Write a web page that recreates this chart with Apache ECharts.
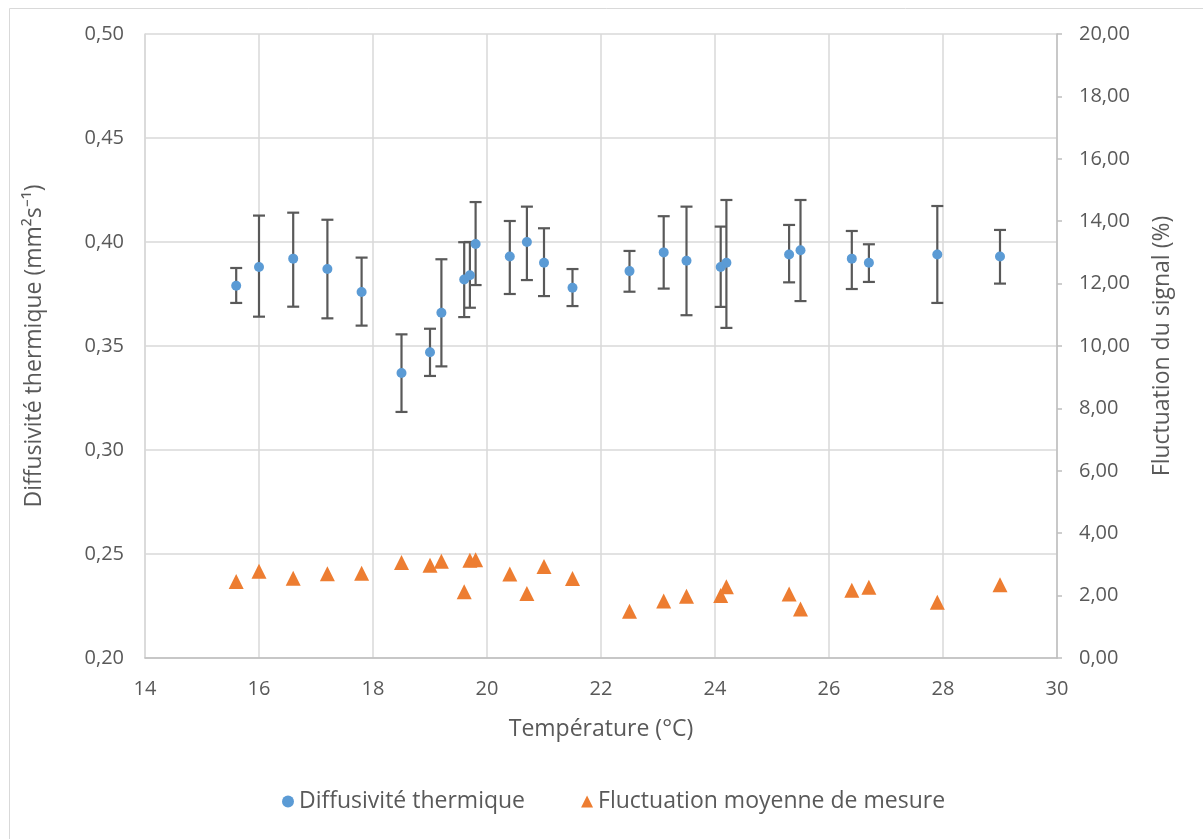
<!DOCTYPE html>
<html>
<head>
<meta charset="utf-8">
<script src="https://cdn.jsdelivr.net/npm/echarts@6/dist/echarts.min.js"></script>
<style>
html,body{margin:0;padding:0;background:#fff;}
#chart{width:1203px;height:839px;}
</style>
</head>
<body>
<div id="chart"></div>
<script>
// Data
var temperatures = [15.6, 16.0, 16.6, 17.2, 17.8, 18.5, 19.0, 19.2, 19.6, 19.7, 19.8, 20.4, 20.7, 21.0, 21.5, 22.5, 23.1, 23.5, 24.1, 24.2, 25.3, 25.5, 26.4, 26.7, 27.9, 29.0];
var diffusivity  = [0.379, 0.388, 0.392, 0.387, 0.376, 0.337, 0.347, 0.366, 0.382, 0.384, 0.399, 0.393, 0.400, 0.390, 0.378, 0.386, 0.395, 0.391, 0.388, 0.390, 0.394, 0.396, 0.392, 0.390, 0.394, 0.393];
var errHigh      = [0.3875, 0.4127, 0.4141, 0.4107, 0.3925, 0.3556, 0.3583, 0.3917, 0.3999, 0.4000, 0.4192, 0.4101, 0.4170, 0.4066, 0.3870, 0.3957, 0.4124, 0.4170, 0.4074, 0.4202, 0.4082, 0.4202, 0.4053, 0.3989, 0.4173, 0.4058];
var errLow       = [0.3707, 0.3641, 0.3689, 0.3633, 0.3598, 0.3183, 0.3356, 0.3402, 0.3639, 0.3684, 0.3793, 0.3750, 0.3817, 0.3740, 0.3692, 0.3761, 0.3776, 0.3648, 0.3688, 0.3587, 0.3806, 0.3716, 0.3774, 0.3808, 0.3707, 0.3800];
var fluctuation  = [2.45, 2.78, 2.56, 2.70, 2.72, 3.06, 2.97, 3.10, 2.12, 3.13, 3.15, 2.69, 2.07, 2.93, 2.55, 1.50, 1.83, 1.98, 2.00, 2.28, 2.05, 1.57, 2.17, 2.27, 1.79, 2.35];
var seriesNames = ['Diffusivité thermique', 'Fluctuation moyenne de mesure'];
var xTitle = 'Température (°C)';
var yLeftTitle = 'Diffusivité thermique (mm²s⁻¹)';
var yRightTitle = 'Fluctuation du signal (%)';

var FONT = '"Open Sans", sans-serif';
var TXT = '#595959';

var diffData = temperatures.map(function (t, i) { return [t, diffusivity[i]]; });
var errData = temperatures.map(function (t, i) { return [t, errLow[i], errHigh[i]]; });
var flucData = temperatures.map(function (t, i) { return [t, fluctuation[i]]; });

var chart = echarts.init(document.getElementById('chart'), null, {renderer: 'canvas'});
chart.setOption({
  backgroundColor: '#fff',
  animation: false,
  graphic: [{
    type: 'rect', left: 7, top: 6, shape: {width: 1210, height: 850},
    style: {fill: 'none', stroke: '#d9d9d9', lineWidth: 1}, silent: true
  }],
  grid: {left: 145, right: 146, top: 34, bottom: 181, containLabel: false},
  legend: {
    top: 785, left: 277, itemGap: 56, itemWidth: 12, itemHeight: 12,
    textStyle: {fontFamily: FONT, fontSize: 23, color: TXT},
    data: [
      {name: seriesNames[0], icon: 'circle', itemStyle: {color: '#5B9BD5'}},
      {name: seriesNames[1], icon: 'triangle', itemStyle: {color: '#ED7D31'}}
    ]
  },
  xAxis: {
    type: 'value', min: 14, max: 30, interval: 2,
    name: xTitle, nameLocation: 'middle', nameGap: 60,
    nameTextStyle: {fontFamily: FONT, fontSize: 23, color: TXT},
    axisLine: {show: true, lineStyle: {color: '#bfbfbf', width: 1.5}},
    axisTick: {show: false},
    axisLabel: {fontFamily: FONT, fontSize: 20, color: TXT, margin: 21},
    splitLine: {show: true, lineStyle: {color: '#d9d9d9', width: 1.5}}
  },
  yAxis: [{
    type: 'value', min: 0.20, max: 0.50, interval: 0.05, position: 'left',
    name: yLeftTitle, nameLocation: 'middle', nameGap: 99, nameRotate: 90,
    nameTextStyle: {fontFamily: FONT, fontSize: 23, color: TXT},
    axisLine: {show: true, lineStyle: {color: '#d9d9d9', width: 1.5}},
    axisTick: {show: false},
    axisLabel: {fontFamily: FONT, fontSize: 20, color: TXT, margin: 21,
      formatter: function (v) { return v.toFixed(2).replace('.', ','); }},
    splitLine: {show: true, lineStyle: {color: '#d9d9d9', width: 1.5}}
  }, {
    type: 'value', min: 0, max: 20, interval: 2, position: 'right',
    name: yRightTitle, nameLocation: 'middle', nameGap: 94, nameRotate: 90,
    nameTextStyle: {fontFamily: FONT, fontSize: 23, color: TXT},
    axisLine: {show: true, lineStyle: {color: '#bfbfbf', width: 1.5}},
    axisTick: {show: true, length: 5, inside: false, lineStyle: {color: '#bfbfbf', width: 1.5}},
    axisLabel: {fontFamily: FONT, fontSize: 20, color: TXT, margin: 22,
      formatter: function (v) { return v.toFixed(2).replace('.', ','); }},
    splitLine: {show: false}
  }],
  series: [{
    name: 'errorbars', type: 'custom', yAxisIndex: 0, z: 2,
    data: errData,
    encode: {x: 0, y: [1, 2]},
    renderItem: function (params, api) {
      var x = api.value(0);
      var lo = api.coord([x, api.value(1)]);
      var hi = api.coord([x, api.value(2)]);
      var cap = 6;
      var st = {stroke: '#595959', lineWidth: 2.2};
      return {type: 'group', children: [
        {type: 'line', shape: {x1: lo[0], y1: lo[1], x2: hi[0], y2: hi[1]}, style: st},
        {type: 'line', shape: {x1: lo[0] - cap, y1: lo[1], x2: lo[0] + cap, y2: lo[1]}, style: st},
        {type: 'line', shape: {x1: hi[0] - cap, y1: hi[1], x2: hi[0] + cap, y2: hi[1]}, style: st}
      ]};
    }
  }, {
    name: seriesNames[0], type: 'scatter', yAxisIndex: 0, z: 5,
    symbol: 'circle', symbolSize: 10,
    itemStyle: {color: '#5B9BD5', opacity: 1},
    data: diffData
  }, {
    name: seriesNames[1], type: 'scatter', yAxisIndex: 1, z: 5,
    symbol: 'triangle', symbolSize: [15, 15],
    itemStyle: {color: '#ED7D31', opacity: 1},
    data: flucData
  }]
});
</script>
</body>
</html>
